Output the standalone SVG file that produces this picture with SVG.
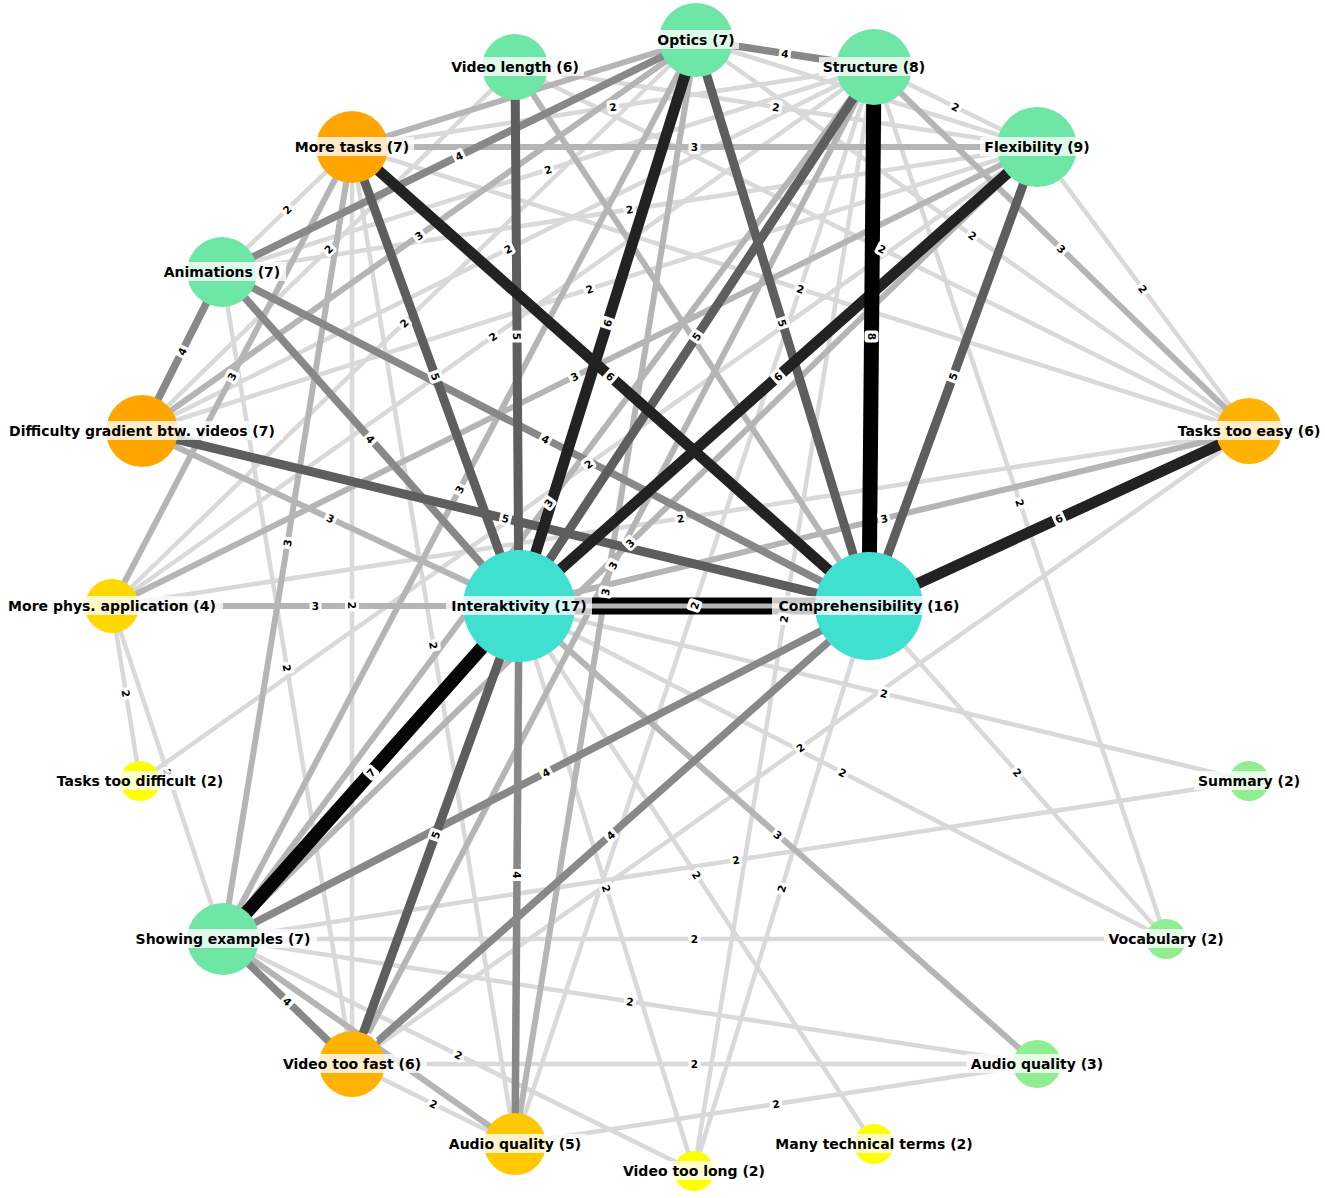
<svg xmlns="http://www.w3.org/2000/svg" width="1325" height="1198" viewBox="0 0 1325 1198">
<style>
line{fill:none}
.w2{stroke:#d9d9d9;stroke-width:4.5}
.w3{stroke:#b5b5b5;stroke-width:6}
.w4{stroke:#888;stroke-width:7.5}
.w5{stroke:#5e5e5e;stroke-width:9}
.w6{stroke:#222;stroke-width:11}
.w7{stroke:#060606;stroke-width:13.5}
.w8{stroke:#000;stroke-width:15}
.w9{stroke:#000;stroke-width:17}
.el rect{x:-6px;y:-7px;width:12px;height:14px;rx:3px;fill:#fff}
.el text{font-family:"DejaVu Sans",sans-serif;font-weight:bold;font-size:10.5px;text-anchor:middle;dominant-baseline:central;fill:#000}
.nl{font-family:"DejaVu Sans",sans-serif;font-weight:bold;font-size:14px;text-anchor:middle;dominant-baseline:central;fill:#000}
.bg{fill:#fff;fill-opacity:0.78}
.t{fill:#40E0D0}.g{fill:#6EE6A6}.lg{fill:#90EE90}.o{fill:#FFA500}.o2{fill:#FFB300}.o3{fill:#FFC800}.y1{fill:#FFD800}.y{fill:#FFFF00}
</style>
<g id="connectors">
<line class="w2" x1="874" y1="67" x2="352" y2="147"/>
<line class="w2" x1="874" y1="67" x2="222" y2="272"/>
<line class="w2" x1="352" y1="147" x2="222" y2="272"/>
<line class="w2" x1="1037" y1="147" x2="222" y2="272"/>
<line class="w2" x1="515" y1="67" x2="142" y2="431"/>
<line class="w2" x1="874" y1="67" x2="142" y2="431"/>
<line class="w2" x1="1037" y1="147" x2="142" y2="431"/>
<line class="w2" x1="696" y1="40" x2="112" y2="606"/>
<line class="w2" x1="874" y1="67" x2="112" y2="606"/>
<line class="w2" x1="1037" y1="147" x2="140" y2="781"/>
<line class="w2" x1="515" y1="67" x2="1037" y2="147"/>
<line class="w2" x1="874" y1="67" x2="1037" y2="147"/>
<line class="w2" x1="515" y1="67" x2="1249" y2="431"/>
<line class="w2" x1="696" y1="40" x2="1249" y2="431"/>
<line class="w2" x1="1037" y1="147" x2="1249" y2="431"/>
<line class="w2" x1="352" y1="147" x2="1249" y2="431"/>
<line class="w2" x1="874" y1="67" x2="1166" y2="939"/>
<line class="w2" x1="1249" y1="431" x2="112" y2="606"/>
<line class="w2" x1="352" y1="147" x2="352" y2="1064"/>
<line class="w2" x1="352" y1="147" x2="515" y2="1144"/>
<line class="w2" x1="222" y1="272" x2="352" y2="1064"/>
<line class="w2" x1="112" y1="606" x2="140" y2="781"/>
<line class="w2" x1="112" y1="606" x2="223" y2="939"/>
<line class="w2" x1="519" y1="606" x2="694" y2="1171"/>
<line class="w2" x1="223" y1="939" x2="1037" y2="1064"/>
<line class="w2" x1="223" y1="939" x2="694" y2="1171"/>
<line class="w2" x1="352" y1="1064" x2="515" y2="1144"/>
<line class="w2" x1="874" y1="67" x2="515" y2="1144"/>
<line class="w2" x1="874" y1="67" x2="694" y2="1171"/>
<line class="w2" x1="519" y1="606" x2="1249" y2="781"/>
<line class="w2" x1="1249" y1="431" x2="352" y2="1064"/>
<line class="w2" x1="519" y1="606" x2="1166" y2="939"/>
<line class="w2" x1="869" y1="606" x2="1166" y2="939"/>
<line class="w2" x1="223" y1="939" x2="1249" y2="781"/>
<line class="w2" x1="519" y1="606" x2="874" y2="1144"/>
<line class="w2" x1="869" y1="606" x2="694" y2="1171"/>
<line class="w2" x1="223" y1="939" x2="1166" y2="939"/>
<line class="w2" x1="352" y1="1064" x2="1037" y2="1064"/>
<line class="w2" x1="515" y1="1144" x2="1037" y2="1064"/>
<line class="w2" x1="696" y1="40" x2="1037" y2="147"/>
<line class="w3" x1="515" y1="67" x2="869" y2="606"/>
<line class="w3" x1="352" y1="147" x2="1037" y2="147"/>
<line class="w3" x1="874" y1="67" x2="1249" y2="431"/>
<line class="w3" x1="112" y1="606" x2="519" y2="606"/>
<line class="w3" x1="142" y1="431" x2="519" y2="606"/>
<line class="w3" x1="1249" y1="431" x2="519" y2="606"/>
<line class="w3" x1="696" y1="40" x2="142" y2="431"/>
<line class="w3" x1="112" y1="606" x2="1037" y2="147"/>
<line class="w3" x1="352" y1="147" x2="112" y2="606"/>
<line class="w3" x1="352" y1="147" x2="223" y2="939"/>
<line class="w3" x1="696" y1="40" x2="223" y2="939"/>
<line class="w3" x1="874" y1="67" x2="223" y2="939"/>
<line class="w3" x1="1037" y1="147" x2="223" y2="939"/>
<line class="w3" x1="874" y1="67" x2="352" y2="1064"/>
<line class="w3" x1="696" y1="40" x2="515" y2="1144"/>
<line class="w3" x1="519" y1="606" x2="1037" y2="1064"/>
<line class="w3" x1="352" y1="147" x2="696" y2="40"/>
<line class="w3" x1="223" y1="939" x2="515" y2="1144"/>
<line class="w4" x1="696" y1="40" x2="874" y2="67"/>
<line class="w4" x1="222" y1="272" x2="696" y2="40"/>
<line class="w4" x1="222" y1="272" x2="142" y2="431"/>
<line class="w4" x1="222" y1="272" x2="519" y2="606"/>
<line class="w4" x1="222" y1="272" x2="869" y2="606"/>
<line class="w4" x1="223" y1="939" x2="869" y2="606"/>
<line class="w4" x1="352" y1="1064" x2="869" y2="606"/>
<line class="w4" x1="519" y1="606" x2="515" y2="1144"/>
<line class="w4" x1="223" y1="939" x2="352" y2="1064"/>
<line class="w5" x1="515" y1="67" x2="519" y2="606"/>
<line class="w5" x1="352" y1="147" x2="519" y2="606"/>
<line class="w5" x1="696" y1="40" x2="869" y2="606"/>
<line class="w5" x1="1037" y1="147" x2="869" y2="606"/>
<line class="w5" x1="874" y1="67" x2="519" y2="606"/>
<line class="w5" x1="142" y1="431" x2="869" y2="606"/>
<line class="w5" x1="519" y1="606" x2="352" y2="1064"/>
<line class="w6" x1="696" y1="40" x2="519" y2="606"/>
<line class="w6" x1="352" y1="147" x2="869" y2="606"/>
<line class="w6" x1="1037" y1="147" x2="519" y2="606"/>
<line class="w6" x1="1249" y1="431" x2="869" y2="606"/>
<line class="w7" x1="519" y1="606" x2="223" y2="939"/>
<line class="w8" x1="874" y1="67" x2="869" y2="606"/>
<line class="w9" x1="519" y1="606" x2="869" y2="606"/>
<line class="w3" x1="112" y1="606" x2="869" y2="606" style="stroke-width:5"/>
</g>
<g id="edge-labels" class="el">
<g transform="translate(613 107) rotate(-8.7)"><rect/><text>2</text></g>
<g transform="translate(548 169.5) rotate(-17.5)"><rect/><text>2</text></g>
<g transform="translate(287 209.5) rotate(-43.9)"><rect/><text>2</text></g>
<g transform="translate(629.5 209.5) rotate(-8.7)"><rect/><text>2</text></g>
<g transform="translate(328.5 249) rotate(-44.3)"><rect/><text>2</text></g>
<g transform="translate(508 249) rotate(-26.4)"><rect/><text>2</text></g>
<g transform="translate(589.5 289) rotate(-17.6)"><rect/><text>2</text></g>
<g transform="translate(404 323) rotate(-44.1)"><rect/><text>2</text></g>
<g transform="translate(493 336.5) rotate(-35.3)"><rect/><text>2</text></g>
<g transform="translate(588.5 464) rotate(-35.3)"><rect/><text>2</text></g>
<g transform="translate(776 107) rotate(8.7)"><rect/><text>2</text></g>
<g transform="translate(955.5 107) rotate(26.1)"><rect/><text>2</text></g>
<g transform="translate(882 249) rotate(26.4)"><rect/><text>2</text></g>
<g transform="translate(972.5 235.5) rotate(35.3)"><rect/><text>2</text></g>
<g transform="translate(1143 289) rotate(53.3)"><rect/><text>2</text></g>
<g transform="translate(800.5 289) rotate(17.6)"><rect/><text>2</text></g>
<g transform="translate(1020 503) rotate(71.5)"><rect/><text>2</text></g>
<g transform="translate(680.5 518.5) rotate(-8.7)"><rect/><text>2</text></g>
<g transform="translate(352 605.5) rotate(90)"><rect/><text>2</text></g>
<g transform="translate(433.5 645.5) rotate(80.7)"><rect/><text>2</text></g>
<g transform="translate(287 668) rotate(80.7)"><rect/><text>2</text></g>
<g transform="translate(126 693.5) rotate(80.9)"><rect/><text>2</text></g>
<g transform="translate(167.5 772.5) rotate(71.6)"><rect/><text>2</text></g>
<g transform="translate(606.5 888.5) rotate(72.8)"><rect/><text>2</text></g>
<g transform="translate(630 1001.5) rotate(8.7)"><rect/><text>2</text></g>
<g transform="translate(458.5 1055) rotate(26.2)"><rect/><text>2</text></g>
<g transform="translate(433.5 1104) rotate(26.1)"><rect/><text>2</text></g>
<g transform="translate(784 619) rotate(-80.7)"><rect/><text>2</text></g>
<g transform="translate(884 693.5) rotate(13.5)"><rect/><text>2</text></g>
<g transform="translate(800.5 747.5) rotate(-35.2)"><rect/><text>2</text></g>
<g transform="translate(842.5 772.5) rotate(27.2)"><rect/><text>2</text></g>
<g transform="translate(1017.5 772.5) rotate(48.3)"><rect/><text>2</text></g>
<g transform="translate(736 860) rotate(-8.8)"><rect/><text>2</text></g>
<g transform="translate(696.5 875) rotate(56.6)"><rect/><text>2</text></g>
<g transform="translate(781.5 888.5) rotate(-72.8)"><rect/><text>2</text></g>
<g transform="translate(694.5 939)"><rect/><text>2</text></g>
<g transform="translate(694.5 1064)"><rect/><text>2</text></g>
<g transform="translate(776 1104) rotate(-8.7)"><rect/><text>2</text></g>
<g transform="translate(866.5 93.5) rotate(17.4)"><rect/><text>2</text></g>
<g transform="translate(694.5 147)"><rect/><text>3</text></g>
<g transform="translate(1061.5 249) rotate(44.2)"><rect/><text>3</text></g>
<g transform="translate(315.5 606)"><rect/><text>3</text></g>
<g transform="translate(330.5 518.5) rotate(24.9)"><rect/><text>3</text></g>
<g transform="translate(884 518.5) rotate(-13.5)"><rect/><text>3</text></g>
<g transform="translate(419 235.5) rotate(-35.2)"><rect/><text>3</text></g>
<g transform="translate(574.5 376.5) rotate(-26.4)"><rect/><text>3</text></g>
<g transform="translate(232 376.5) rotate(-62.4)"><rect/><text>3</text></g>
<g transform="translate(287.5 543) rotate(-80.7)"><rect/><text>3</text></g>
<g transform="translate(459.5 489.5) rotate(-62.2)"><rect/><text>3</text></g>
<g transform="translate(548.5 503) rotate(-53.3)"><rect/><text>3</text></g>
<g transform="translate(630 543) rotate(-44.2)"><rect/><text>3</text></g>
<g transform="translate(613 565.5) rotate(-62.4)"><rect/><text>3</text></g>
<g transform="translate(605.5 592) rotate(-80.7)"><rect/><text>3</text></g>
<g transform="translate(778 835) rotate(41.5)"><rect/><text>3</text></g>
<g transform="translate(524 93.5) rotate(-17.3)"><rect/><text>3</text></g>
<g transform="translate(369 1041.5) rotate(35.1)"><rect/><text>3</text></g>
<g transform="translate(785 53.5) rotate(8.6)"><rect/><text>4</text></g>
<g transform="translate(459 156) rotate(-26.1)"><rect/><text>4</text></g>
<g transform="translate(182 351.5) rotate(-63.3)"><rect/><text>4</text></g>
<g transform="translate(370.5 439) rotate(48.4)"><rect/><text>4</text></g>
<g transform="translate(545.5 439) rotate(27.3)"><rect/><text>4</text></g>
<g transform="translate(546 772.5) rotate(-27.3)"><rect/><text>4</text></g>
<g transform="translate(610.5 835) rotate(-41.5)"><rect/><text>4</text></g>
<g transform="translate(517 875) rotate(90)"><rect/><text>4</text></g>
<g transform="translate(287.5 1001.5) rotate(44.1)"><rect/><text>4</text></g>
<g transform="translate(517 336.5) rotate(89.6)"><rect/><text>5</text></g>
<g transform="translate(435.5 376.5) rotate(70)"><rect/><text>5</text></g>
<g transform="translate(782.5 323) rotate(73)"><rect/><text>5</text></g>
<g transform="translate(953 376.5) rotate(-69.9)"><rect/><text>5</text></g>
<g transform="translate(696.5 336.5) rotate(-56.6)"><rect/><text>5</text></g>
<g transform="translate(505.5 518.5) rotate(13.5)"><rect/><text>5</text></g>
<g transform="translate(435.5 835) rotate(-70)"><rect/><text>5</text></g>
<g transform="translate(607.5 323) rotate(-72.6)"><rect/><text>6</text></g>
<g transform="translate(610.5 376.5) rotate(41.6)"><rect/><text>6</text></g>
<g transform="translate(778 376.5) rotate(-41.5)"><rect/><text>6</text></g>
<g transform="translate(1059 518.5) rotate(-24.7)"><rect/><text>6</text></g>
<g transform="translate(371 772.5) rotate(-48.4)"><rect/><text>7</text></g>
<g transform="translate(871.5 336.5) rotate(90)"><rect/><text>8</text></g>
<g transform="translate(694.5 605.5) rotate(-71.6)"><rect/><text>2</text></g>
</g>
<g id="n-optics"><circle class="g" cx="696" cy="40" r="37"/><rect class="bg" x="653" y="30" width="86" height="19"/><text class="nl" x="696" y="40">Optics (7)</text></g>
<g id="n-videolength"><circle class="g" cx="515" cy="67" r="33"/><rect class="bg" x="446" y="57" width="138" height="19"/><text class="nl" x="515" y="67">Video length (6)</text></g>
<g id="n-structure"><circle class="g" cx="874" cy="67" r="38"/><rect class="bg" x="819" y="57" width="112" height="19"/><text class="nl" x="874" y="67">Structure (8)</text></g>
<g id="n-moretasks"><circle class="o" cx="352" cy="147" r="36"/><rect class="bg" x="290" y="137" width="124" height="19"/><text class="nl" x="352" y="147">More tasks (7)</text></g>
<g id="n-flexibility"><circle class="g" cx="1037" cy="147" r="40"/><rect class="bg" x="980" y="137" width="115" height="19"/><text class="nl" x="1037" y="147">Flexibility (9)</text></g>
<g id="n-animations"><circle class="g" cx="222" cy="272" r="35"/><rect class="bg" x="160" y="262" width="126" height="19"/><text class="nl" x="222" y="272">Animations (7)</text></g>
<g id="n-difficulty"><circle class="o" cx="142" cy="431" r="36"/><rect class="bg" x="1" y="421" width="282" height="19"/><text class="nl" x="142" y="431">Difficulty gradient btw. videos (7)</text></g>
<g id="n-taskseasy"><circle class="o2" cx="1249" cy="431" r="33"/><rect class="bg" x="1173" y="421" width="152" height="19"/><text class="nl" x="1249" y="431">Tasks too easy (6)</text></g>
<g id="n-morephys"><circle class="y1" cx="112" cy="606" r="27"/><rect class="bg" x="2" y="596" width="221" height="19"/><text class="nl" x="112" y="606">More phys. application (4)</text></g>
<g id="n-interaktivity"><circle class="t" cx="519" cy="606" r="56"/><rect class="bg" x="446" y="596" width="146" height="19"/><text class="nl" x="519" y="606">Interaktivity (17)</text></g>
<g id="n-comprehensibility"><circle class="t" cx="869" cy="606" r="54"/><rect class="bg" x="772" y="596" width="194" height="19"/><text class="nl" x="869" y="606">Comprehensibility (16)</text></g>
<g id="n-tasksdifficult"><circle class="y" cx="140" cy="781" r="20"/><rect class="bg" x="50" y="771" width="180" height="19"/><text class="nl" x="140" y="781">Tasks too difficult (2)</text></g>
<g id="n-summary"><circle class="lg" cx="1249" cy="781" r="20"/><rect class="bg" x="1194" y="771" width="111" height="19"/><text class="nl" x="1249" y="781">Summary (2)</text></g>
<g id="n-showing"><circle class="g" cx="223" cy="939" r="36"/><rect class="bg" x="130" y="929" width="187" height="19"/><text class="nl" x="223" y="939">Showing examples (7)</text></g>
<g id="n-vocabulary"><circle class="lg" cx="1166" cy="939" r="20"/><rect class="bg" x="1104" y="929" width="125" height="19"/><text class="nl" x="1166" y="939">Vocabulary (2)</text></g>
<g id="n-videofast"><circle class="o2" cx="352" cy="1064" r="33"/><rect class="bg" x="278" y="1054" width="149" height="19"/><text class="nl" x="352" y="1064">Video too fast (6)</text></g>
<g id="n-audio3"><circle class="lg" cx="1037" cy="1064" r="24"/><rect class="bg" x="966" y="1054" width="143" height="19"/><text class="nl" x="1037" y="1064">Audio quality (3)</text></g>
<g id="n-audio5"><circle class="o3" cx="515" cy="1144" r="31"/><rect class="bg" x="443" y="1134" width="144" height="19"/><text class="nl" x="515" y="1144">Audio quality (5)</text></g>
<g id="n-technical"><circle class="y" cx="874" cy="1144" r="20"/><rect class="bg" x="769" y="1134" width="211" height="19"/><text class="nl" x="874" y="1144">Many technical terms (2)</text></g>
<g id="n-videolong"><circle class="y" cx="694" cy="1171" r="20"/><rect class="bg" x="618" y="1161" width="153" height="19"/><text class="nl" x="694" y="1171">Video too long (2)</text></g>
</svg>
